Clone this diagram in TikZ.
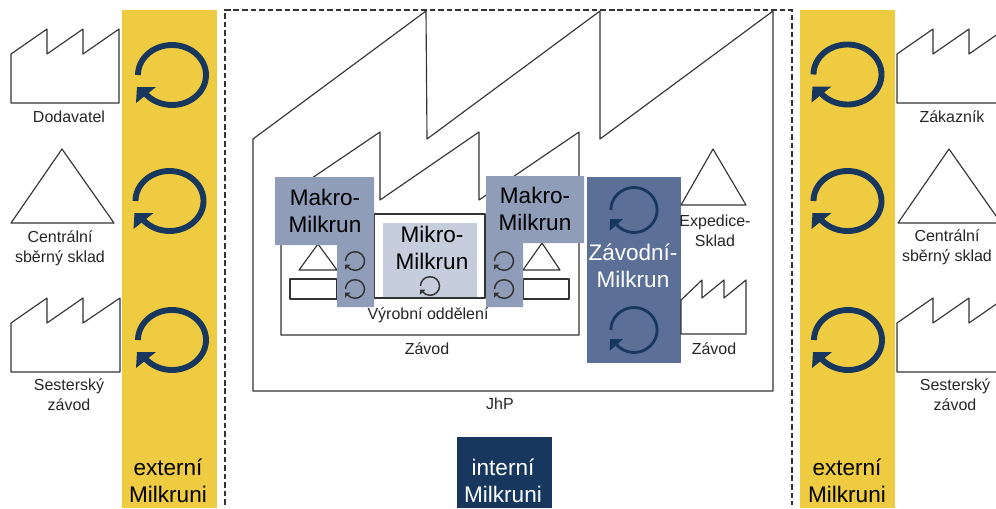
\documentclass[tikz,border=0pt]{standalone}
\usepackage{fontspec}
\setmainfont{Liberation Sans}
\definecolor{lineC}{HTML}{333333}
\definecolor{yellowC}{HTML}{EECB40}
\definecolor{navyC}{HTML}{17375E}
\definecolor{makroC}{HTML}{8F9DB9}
\definecolor{mikroC}{HTML}{C6CEDE}
\definecolor{zavodC}{HTML}{5B6F97}
\tikzset{
  outline/.style={draw=lineC,line width=.85pt,line join=round,fill=white},
  smalltext/.style={align=center,inner sep=0pt,text=black!85,font=\fontsize{12}{15}\selectfont},
  bigtext/.style={align=center,inner sep=0pt,font=\fontsize{16.9}{19.8}\selectfont},
}
% cx cy xscale yscale linewidth colour
\newcommand{\loopmark}[6]{%
  \begin{scope}[shift={(#1,#2)},xscale=#3,yscale=#4]
    \draw[#6,line width=#5] (-34,0)
      .. controls (-34,-16.6) and (-18.8,-30) .. (0,-30)
      .. controls (18.8,-30) and (34,-16.6) .. (34,0)
      .. controls (34,16.6) and (18.8,30) .. (0,30)
      .. controls (-11.1,30) and (-21.5,25.2) .. (-27.9,17.2);
    \fill[#6] (-36,28) -- (-35,12) -- (-16,12) -- cycle;
  \end{scope}}
\begin{document}
\begin{tikzpicture}[x=.75pt,y=-.75pt]
\useasboundingbox (0,0) rectangle (996,508);
\clip (0,0) rectangle (996,508);
\fill[white] (0,0) rectangle (996,508);
% yellow bars
\fill[yellowC] (122,10) rectangle (217,508);
\fill[yellowC] (800,10) rectangle (895,508);
% dashed frame
\draw[lineC,line width=.9pt,dash pattern=on 4.2pt off 2.2pt] (225,505) -- (225,10) -- (792,10) -- (792,505);
% JhP factory
\draw[outline] (253,391) -- (253,139) -- (426,11) -- (427,139) -- (600,11) -- (600,139) -- (773,11) -- (773,391) -- cycle;
% Zavod factory
\draw[outline] (281,335) -- (281,199) -- (380,132) -- (380,200) -- (479,132) -- (479,200) -- (579,132) -- (579,335) -- cycle;
% production department
\draw[outline] (374,214) rectangle (485,298);
% small stores
\draw[outline] (299,270) -- (318,244) -- (337,270) -- cycle;
\draw[outline] (290,279) rectangle (337,299);
\draw[outline] (523,270) -- (542,243) -- (560,270) -- cycle;
\draw[outline] (523,279) rectangle (569,299);
% Mikro
\fill[mikroC] (383,223) rectangle (477,297);
\loopmark{430}{286}{.28}{.31}{1.1pt}{lineC}
% Makro L-shapes
\fill[makroC] (275,177) -- (374,177) -- (374,307) -- (337,307) -- (337,245) -- (275,245) -- cycle;
\fill[makroC] (486,176) -- (584,176) -- (584,243) -- (523,243) -- (523,307) -- (486,307) -- cycle;
\loopmark{355}{261}{.28}{.31}{1.1pt}{lineC}
\loopmark{355}{289}{.28}{.31}{1.1pt}{lineC}
\loopmark{504}{261}{.28}{.31}{1.1pt}{lineC}
\loopmark{504}{289}{.28}{.31}{1.1pt}{lineC}
% Zavodni box
\fill[zavodC] (587,177) rectangle (681,363);
\loopmark{634}{210}{.68}{.75}{2.1pt}{navyC}
\loopmark{634}{330}{.68}{.75}{2.1pt}{navyC}
% Expedice and small factory
\draw[outline] (681,205) -- (713,149) -- (746,205) -- cycle;
\draw[outline] (681,334) -- (681,300) -- (702,280) -- (702,298) -- (724,280) -- (724,298) -- (746,280) -- (746,334) -- cycle;
% left shapes
\draw[outline] (11,103) -- (11,54) -- (47,29) -- (47,54) -- (83,29) -- (83,54) -- (119,29) -- (119,103) -- cycle;
\draw[outline] (11,223) -- (62,149) -- (114,223) -- cycle;
\draw[outline] (11,372) -- (11,323) -- (47,298) -- (47,323) -- (83,298) -- (83,323) -- (120,298) -- (120,372) -- cycle;
% right shapes
\draw[outline] (897,103) -- (897,54) -- (933,29) -- (933,54) -- (969,29) -- (969,54) -- (1005,29) -- (1005,103) -- cycle;
\draw[outline] (898,223) -- (949,149) -- (1001,223) -- cycle;
\draw[outline] (897,372) -- (897,323) -- (933,298) -- (933,323) -- (969,298) -- (969,323) -- (1005,298) -- (1005,372) -- cycle;
% big loops
\loopmark{172}{75}{1}{1}{4.4pt}{navyC}
\loopmark{169.5}{201}{1}{1}{4.4pt}{navyC}
\loopmark{172}{340}{1}{1}{4.4pt}{navyC}
\loopmark{847.5}{74.5}{1}{1}{4.4pt}{navyC}
\loopmark{847.5}{201}{1}{1}{4.4pt}{navyC}
\loopmark{848}{340}{1}{1}{4.4pt}{navyC}
% interni box
\fill[navyC] (457,437) rectangle (552,508);
% texts
\node[smalltext] (dod) at (69,117) {Dodavatel};
\node[smalltext] (csl) at (60,248) {Centrální\\sběrný sklad};
\node[smalltext] (ses) at (69,395) {Sesterský\\závod};
\node[smalltext] (zak) at (952,117) {Zákazník};
\node[smalltext] (csr) at (947,247) {Centrální\\sběrný sklad};
\node[smalltext] (ser) at (955,395) {Sesterský\\závod};
\node[smalltext] (exp) at (715,231) {Expedice-\\Sklad};
\node[smalltext] (zv1) at (714,349) {Závod};
\node[smalltext] (zv2) at (427,349) {Závod};
\node[smalltext] (vyr) at (428,315) {Výrobní oddělení};
\node[smalltext] (jhp) at (500,404) {JhP};
\node[bigtext] (mkl) at (325,211) {Makro-\\Milkrun};
\node[bigtext] (mkr) at (535,209) {Makro-\\Milkrun};
\node[bigtext] (mik) at (432,248) {Mikro-\\Milkrun};
\node[bigtext,text=white] (zmi) at (633,266) {Závodní-\\Milkrun};
\node[bigtext] (exl) at (168,481) {externí\\Milkruni};
\node[bigtext] (exr) at (847,481) {externí\\Milkruni};
\node[bigtext,text=white] (int) at (503,481) {interní\\Milkruni};
\end{tikzpicture}
\end{document}
